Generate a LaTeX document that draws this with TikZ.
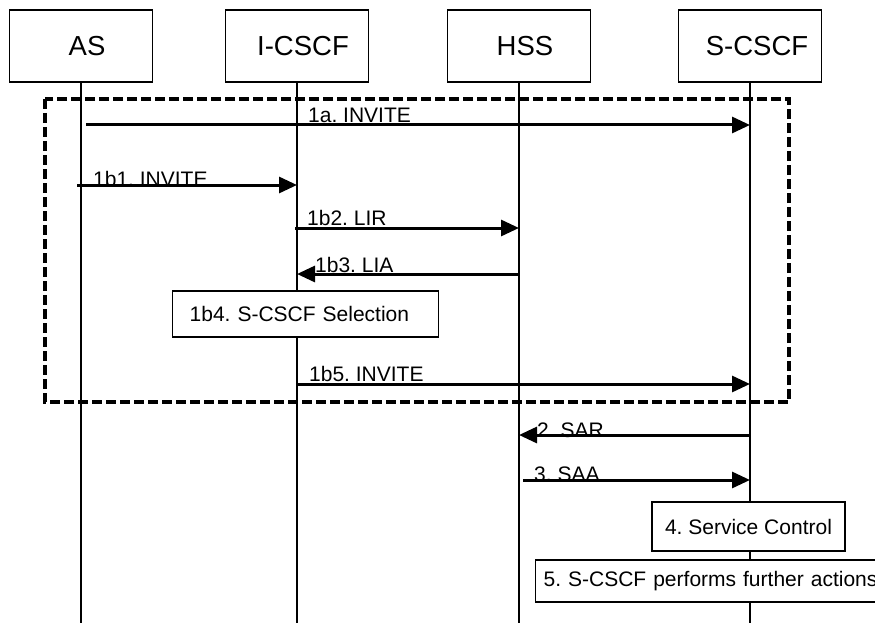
\documentclass[tikz,border=0pt]{standalone}
\usepackage{fontspec}
\setmainfont{Liberation Sans}
\usetikzlibrary{arrows.meta}
\frenchspacing
\begin{document}
\frenchspacing
\begin{tikzpicture}[x=1pt,y=-1pt,
  entity/.style={draw, line width=1.3pt, minimum width=143pt, minimum height=72pt, inner sep=0pt, font=\fontsize{27.5}{30}\selectfont},
  life/.style={line width=1.5pt},
  msg/.style={line width=3pt, -{Triangle[length=18pt,width=16pt]}},
  lbl/.style={anchor=base west, inner sep=0pt, font=\fontsize{21}{24}\selectfont},
  proc/.style={draw, line width=1.3pt, fill=white, inner ysep=0pt, align=left, font=\fontsize{21}{24}\selectfont},
  group/.style={line width=3.3pt, dash pattern=on 10pt off 4pt}]
\useasboundingbox (0,0) rectangle (875,623);

% entities
\node[entity] (as) at (81,46) {\hspace*{12pt}AS};
\node[entity] (icscf) at (297,46) {\hspace*{12pt}I-CSCF};
\node[entity] (hss) at (519,46) {\hspace*{12pt}HSS};
\node[entity] (scscf) at (750,46) {\hspace*{14pt}S-CSCF};

% lifeline ends
\coordinate (asE) at (81,623);
\coordinate (icE) at (297,623);
\coordinate (hsE) at (519,623);
\coordinate (scE) at (750,623);
\draw[life] (as.south) -- (asE);
\draw[life] (icscf.south) -- (icE);
\draw[life] (hss.south) -- (hsE);
\draw[life] (scscf.south) -- (scE);

% group frame
\draw[group] (45,99) rectangle (789,402);

% message end points
\coordinate (m1aS) at (86,125);   \coordinate (m1aE) at (750,125);
\coordinate (m1bS) at (77,185);   \coordinate (m1bE) at (297,185);
\coordinate (m2bS) at (295,228);  \coordinate (m2bE) at (519,228);
\coordinate (m3bS) at (519,274);  \coordinate (m3bE) at (297,274);
\coordinate (m5bS) at (296,384);  \coordinate (m5bE) at (750,384);
\coordinate (m2S) at (750,435);   \coordinate (m2E) at (519,435);
\coordinate (m3S) at (523,480);   \coordinate (m3E) at (750,480);

\draw[msg] (m1aS) -- (m1aE);
\node[lbl] (l1a) at (308,123) {1a. INVITE};
\draw[msg] (m1bS) -- (m1bE);
\node[lbl] (l1b1) at (93,186) {1b1. INVITE};
\draw[msg] (m2bS) -- (m2bE);
\node[lbl] (l1b2) at (307,225) {1b2. LIR};
\draw[msg] (m3bS) -- (m3bE);
\node[lbl] (l1b3) at (315,272) {1b3. LIA};
\node[proc, anchor=west, inner xsep=17pt, text width=232pt, minimum height=46pt] (p1b4) at (172,314) {1b4. S-CSCF Selection};
\draw[msg] (m5bS) -- (m5bE);
\node[lbl] (l1b5) at (309,381) {1b5. INVITE};
\draw[msg] (m2S) -- (m2E);
\node[lbl] (l2) at (537,437) {2. SAR};
\draw[msg] (m3S) -- (m3E);
\node[lbl] (l3) at (534,481) {3. SAA};

\node[proc, align=center, minimum width=193pt, minimum height=49pt] (p4) at (748.5,526.5) {4. Service Control};
\node[proc, anchor=west, inner xsep=8pt, text width=380pt, minimum height=42pt] (p5) at (535,581) {5. S-CSCF performs further actions};
\end{tikzpicture}
\end{document}
